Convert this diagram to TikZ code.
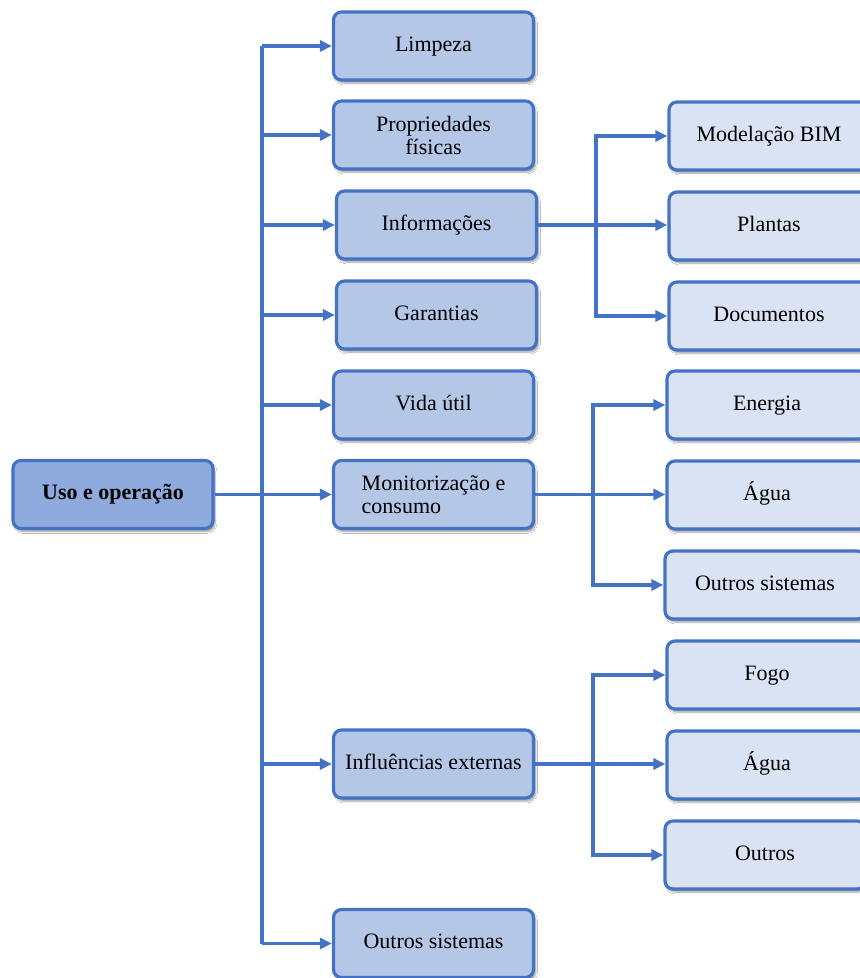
\documentclass[tikz,border=0pt]{standalone}
\usepackage{fontspec}
\setmainfont{Liberation Serif}
\usetikzlibrary{arrows.meta,shadows.blur}
\definecolor{edgeblue}{HTML}{4472C4}
\definecolor{rootfill}{HTML}{8FAADC}
\definecolor{midfill}{HTML}{B4C7E7}
\definecolor{leaffill}{HTML}{DAE3F3}
\tikzset{
  box/.style={draw=edgeblue, line width=3.2pt, rounded corners=8pt,
    minimum width=200pt, minimum height=68pt, align=center,
    font=\fontsize{22}{23}\selectfont,
    blur shadow={shadow xshift=2pt, shadow yshift=-3pt, shadow opacity=40, shadow blur steps=6}},
  oneline/.style={text height=15pt, text depth=5pt},
  rootbox/.style={box, oneline, fill=rootfill, font=\fontsize{22}{23}\selectfont\bfseries},
  midbox/.style={box, fill=midfill},
  leafbox/.style={box, oneline, fill=leaffill},
  conn/.style={draw=edgeblue, line width=3.2pt},
  arr/.style={conn, -{Triangle[length=12pt,width=11pt]}},
}
\begin{document}
\begin{tikzpicture}[x=1pt,y=-1pt]
\clip (0,0) rectangle (860,978);
\fill[white] (0,0) rectangle (860,978);

% root
\node[rootbox] (root) at (113,494.5) {Uso e operação};

% first level
\node[midbox, oneline] (lim) at (433.5,46)    {Limpeza};
\node[midbox] (pro) at (433.5,135)   {Propriedades\\físicas};
\node[midbox, oneline] (inf) at (436.5,225)   {Informações};
\node[midbox, oneline] (gar) at (436.5,315)   {Garantias};
\node[midbox, oneline] (vid) at (433.5,405)   {Vida útil};
\node[midbox, align=left] (mon) at (433.5,494.5) {Monitorização e\\consumo};
\node[midbox, oneline] (ext) at (433.5,764)   {Influências externas};
\node[midbox, oneline] (out) at (433.5,943.5) {Outros sistemas};

% second level
\node[leafbox] (bim) at (769,136) {Modelação BIM};
\node[leafbox] (pla) at (769,226) {Plantas};
\node[leafbox] (doc) at (769,316) {Documentos};
\node[leafbox] (ene) at (767,405) {Energia};
\node[leafbox] (ag1) at (767,495) {Água};
\node[leafbox] (osi) at (765,585) {Outros sistemas};
\node[leafbox] (fog) at (767,675) {Fogo};
\node[leafbox] (ag2) at (767,765) {Água};
\node[leafbox] (otr) at (765,855) {Outros};

% vertical rails
\coordinate (trunk) at (262,0);
\coordinate (railA) at (596,0);
\coordinate (railB) at (593,0);

% main trunk
\draw[conn] (trunk |- lim.west) -- (trunk |- out.west);
\foreach \n in {lim,pro,inf,gar,vid,ext,out}
  \draw[arr] (trunk |- \n.west) -- (\n.west);
\draw[arr] (root.east) -- (root.east -| mon.west);

% information branch
\draw[arr] (inf.east) -- (inf.east -| pla.west);
\draw[arr] (railA |- doc.west) -- (railA |- bim.west) -- (bim.west);
\draw[arr] (railA |- bim.west) -- (railA |- doc.west) -- (doc.west);

% monitoring branch
\draw[arr] (mon.east) -- (mon.east -| ag1.west);
\draw[arr] (railB |- osi.west) -- (railB |- ene.west) -- (ene.west);
\draw[arr] (railB |- ene.west) -- (railB |- osi.west) -- (osi.west);

% external influences branch
\draw[arr] (ext.east) -- (ext.east -| ag2.west);
\draw[arr] (railB |- otr.west) -- (railB |- fog.west) -- (fog.west);
\draw[arr] (railB |- fog.west) -- (railB |- otr.west) -- (otr.west);
\end{tikzpicture}
\end{document}
